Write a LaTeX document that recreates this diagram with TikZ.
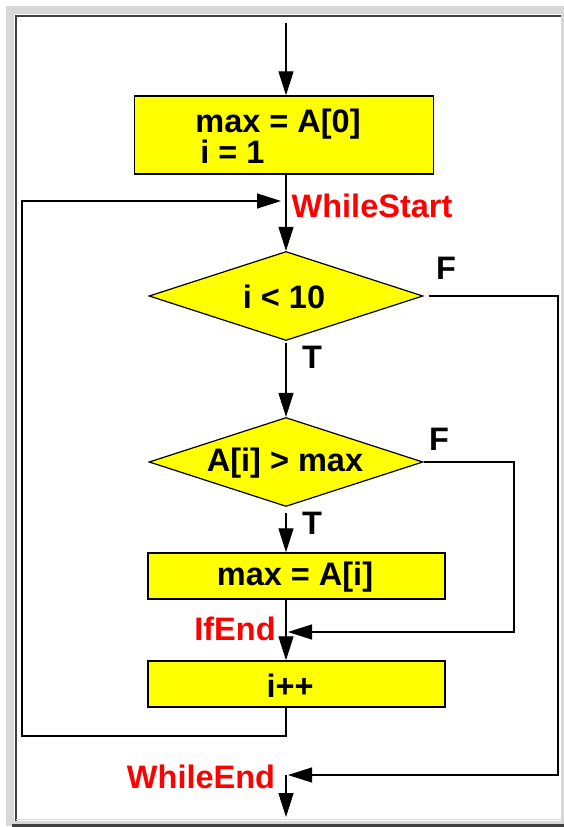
\documentclass[tikz,border=0pt]{standalone}
\usepackage{fontspec}
\setmainfont{Liberation Sans}
\usetikzlibrary{arrows.meta,shapes.geometric}
\definecolor{fyellow}{RGB}{255,255,0}
\definecolor{framegray}{RGB}{216,216,216}
\definecolor{framedark}{RGB}{64,64,64}
\begin{document}
\begin{tikzpicture}[x=1pt,y=-1pt,
  txt/.style={font=\fontsize{32.5}{29}\selectfont\bfseries, inner sep=0pt},
  lbl/.style={txt, text=red},
  box/.style={draw=black, line width=1.4pt, fill=fyellow, rectangle, inner sep=0pt},
  dia/.style={draw=black, line width=1.2pt, fill=fyellow, diamond, inner sep=0pt,
              minimum width=274pt, minimum height=89pt},
  flow/.style={line width=1.3pt, -{Triangle[length=24pt,width=15pt]}},
  plain/.style={line width=1.3pt}]
\useasboundingbox (0,0) rectangle (564,827);
% window frame
\fill[white] (0,0) rectangle (564,827);
\fill[framegray] (6,6) rectangle (564,826);
\fill[white] (14,14) rectangle (561,821);
\draw[framedark, line width=2pt] (16,821) -- (16,16) -- (561,16);
\draw[framegray, line width=1pt] (16,819) -- (561,819);
\fill[framedark] (12,824) rectangle (564,827);

% nodes
\node[box, minimum width=299pt, minimum height=78pt] (box1) at (284,135) {};
\node[txt, align=left] (box1t) at (278,136) {max = A[0]\\\hspace{5pt}i = 1};
\node[dia] (d1) at (286,296) {};
\node[txt] (d1t) at (284,297) {i < 10};
\node[dia] (d2) at (286,462) {};
\node[txt] (d2t) at (285,463) {A[i] > max};
\node[box, minimum width=297pt, minimum height=46pt] (box3) at (296.5,576) {};
\node[txt] (box3t) at (295,577) {max = A[i]};
\node[box, minimum width=297pt, minimum height=46pt] (box4) at (296.5,684) {};
\node[txt] (box4t) at (290,686) {i++};

% labels
\node[lbl] (wsl) at (372,206) {WhileStart};
\node[lbl] (iel) at (235,629) {IfEnd};
\node[lbl] (wel) at (201,777) {WhileEnd};
\node[txt] (f1) at (446,268) {F};
\node[txt] (t1) at (312,357) {T};
\node[txt] (f2) at (439,439) {F};
\node[txt] (t2) at (312,523) {T};

% coordinates
\coordinate (start) at (286,23);
\coordinate (ws) at (286,201);
\coordinate (loopL) at (22,736);
\coordinate (farR) at (558,775);
\coordinate (we) at (286,775);
\coordinate (exit) at (286,817);
\coordinate (ifR) at (514,632);
\coordinate (ie) at (286,632);

% connectors
\draw[flow] (start) -- (start |- box1.north);
\draw[flow] (box1.south -| d1.north) -- (d1.north);
\draw[flow, shorten >=5pt] (box4.south -| d1.south) |- (loopL) |- (ws);
\draw[flow, shorten <=2pt] (d1.south) -- (d2.north);
\draw[flow, shorten <=5pt, shorten >=2pt] (d1.east) -| (farR) -- (we);
\draw[flow] (we) -- (exit);
\draw[flow, shorten <=6pt] (d2.south) -- (d2.south |- box3.north);
\draw[flow, shorten >=2pt] (d2.east) -| (ifR) -- (ie);
\draw[plain] (box3.south -| ie) -- (ie);
\draw[flow] (ie) -- (ie |- box4.north);
\end{tikzpicture}
\end{document}
